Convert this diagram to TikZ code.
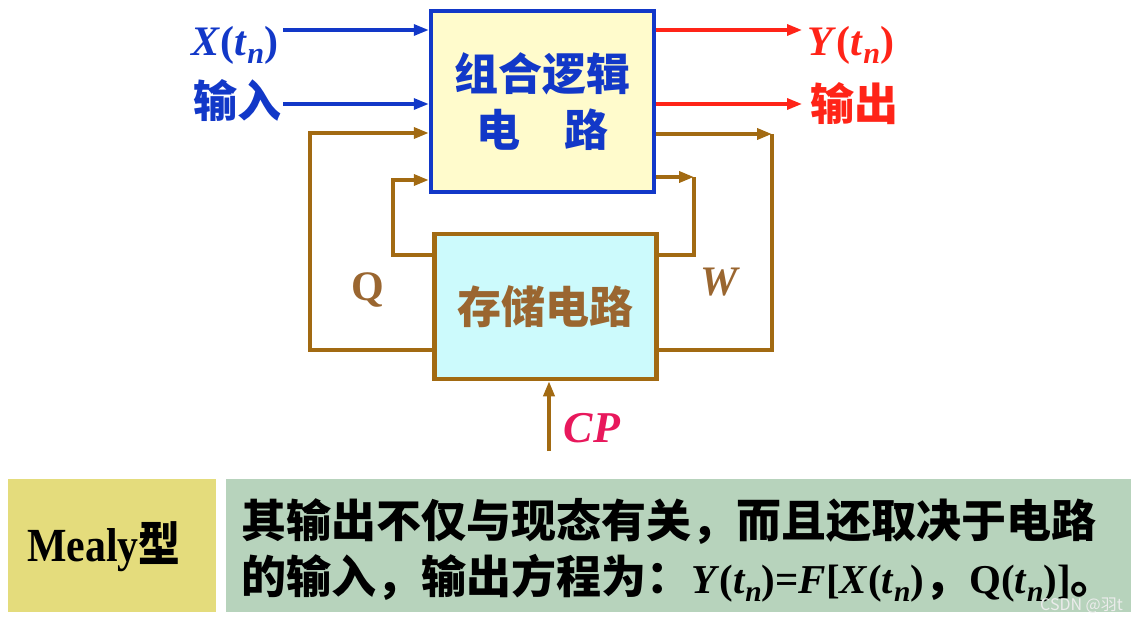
\documentclass[tikz,border=0pt]{standalone}
\usepackage{fontspec}
\setmainfont{Liberation Serif}
\newfontfamily\cjk{Noto Sans CJK SC}
\usetikzlibrary{arrows.meta}
\definecolor{myblue}{HTML}{1238C8}
\definecolor{myred}{HTML}{FF2418}
\definecolor{mybrown}{HTML}{A26A12}
\definecolor{txtbrown}{HTML}{9A6630}
\definecolor{cpcol}{HTML}{E8185C}
\definecolor{topfill}{HTML}{FFFBCC}
\definecolor{memfill}{HTML}{CCFAFC}
\definecolor{yelbox}{HTML}{E4DC7C}
\definecolor{grnbox}{HTML}{B7D3BC}
\newcommand{\tn}{\textit{t}\raisebox{-0.45ex}{\scalebox{0.72}{\textit{n}}}}
\tikzset{
  bline/.style={myblue,line width=3.2pt,-{Triangle[length=15pt,width=11pt]}},
  rline/.style={myred,line width=3.2pt,-{Triangle[length=15pt,width=11pt]}},
  brline/.style={mybrown,line width=3.5pt},
  brarrow/.style={mybrown,line width=3.5pt,-{Triangle[length=15pt,width=11pt]}},
  lbl/.style={inner sep=0pt,font=\fontsize{42}{44}\selectfont\bfseries},
  cjklbl/.style={inner sep=0pt,font=\cjk\bfseries\fontsize{44}{46}\selectfont},
}
\begin{document}
\begin{tikzpicture}[x=1pt,y=-1pt]
\useasboundingbox (0,0) rectangle (1139,621);
% boxes
\node[draw=myblue,line width=4.5pt,fill=topfill,minimum width=223pt,minimum height=181pt,inner sep=0pt,
  align=center,text=myblue,font=\cjk\bfseries\fontsize{44}{56}\selectfont] (top) at (542.5,101.5)
  {组合逻辑\\电\hspace{1em}路};
\node[draw=mybrown,line width=4.5pt,fill=memfill,minimum width=222pt,minimum height=145pt,inner sep=0pt,
  text=txtbrown,font=\cjk\bfseries\fontsize{44}{46}\selectfont] (mem) at (545.5,306.5) {存储电路};
% inputs
\coordinate (xin) at (283,30);
\coordinate (iin) at (283,104);
\draw[bline] (xin) -- (xin -| top.west);
\draw[bline] (iin) -- (iin -| top.west);
\node[lbl,text=myblue] (xl) at (235,45) {\textit{X}(\tn)};
\node[cjklbl,text=myblue] (il) at (237,101) {输入};
% outputs
\coordinate (yout) at (802,30);
\coordinate (oout) at (802,104);
\draw[rline] (yout -| top.east) -- (yout);
\draw[rline] (oout -| top.east) -- (oout);
\node[lbl,text=myred] (yl) at (851,45) {\textit{Y}(\tn)};
\node[cjklbl,text=myred] (ol) at (854,104) {输出};
% feedback loops
\coordinate (L1) at (310,350); \coordinate (L2) at (310,133);
\coordinate (L3) at (393,255); \coordinate (L4) at (393,180);
\draw[brarrow] (mem.west |- L1) -- (L1) -- (L2) -- (L2 -| top.west);
\draw[brarrow] (mem.west |- L3) -- (L3) -- (L4) -- (L4 -| top.west);
\coordinate (R1) at (694,177); \coordinate (R2) at (694,255);
\coordinate (R3) at (772,134); \coordinate (R4) at (772,350);
\draw[brarrow] (R1 -| top.east) -- (R1);
\draw[brline] (R1) -- (R2) -- (R2 -| mem.east);
\draw[brarrow] (R3 -| top.east) -- (R3);
\draw[brline] (R3) -- (R4) -- (R4 -| mem.east);
\node[lbl,text=txtbrown] (ql) at (368,290) {Q};
\node[lbl,text=txtbrown] (wl) at (720,282) {\textit{W}};
% clock
\coordinate (cp) at (549,451);
\draw[brarrow] (cp) -- (cp |- mem.south);
\node[lbl,text=cpcol,font=\fontsize{44}{46}\selectfont\bfseries] (cpl) at (592,428) {\textit{CP}};
% bottom boxes
\node[fill=yelbox,minimum width=208pt,minimum height=133pt,inner sep=0pt] (mealy) at (112,545.5) {};
\node[inner sep=0pt,font=\fontsize{44}{46}\selectfont\bfseries] (mealyt) at (104,547)
  {\scalebox{0.95}[1.08]{Mealy{\cjk 型}}};
\node[fill=grnbox,minimum width=905pt,minimum height=133pt,inner sep=0pt] (desc) at (678.5,545.5) {};
\node[anchor=west,inner sep=0pt,font=\cjk\bfseries\fontsize{45}{46}\selectfont] (d1) at (241,521)
  {其输出不仅与现态有关，而且还取决于电路};
\node[anchor=west,inner sep=0pt,font=\cjk\bfseries\fontsize{45}{46}\selectfont] (d2) at (241,578)
  {的输入，输出方程为：{\rmfamily\bfseries\fontsize{41}{44}\selectfont\textit{Y}(\tn)=\textit{F}[\textit{X}(\tn)}，{\rmfamily\bfseries\fontsize{41}{44}\selectfont Q(\tn)]}。};
\node[anchor=west,inner sep=0pt,text=white!85!gray,font=\cjk\fontsize{16}{18}\selectfont] (wm) at (1040,606) {CSDN @羽t};
\end{tikzpicture}
\end{document}
